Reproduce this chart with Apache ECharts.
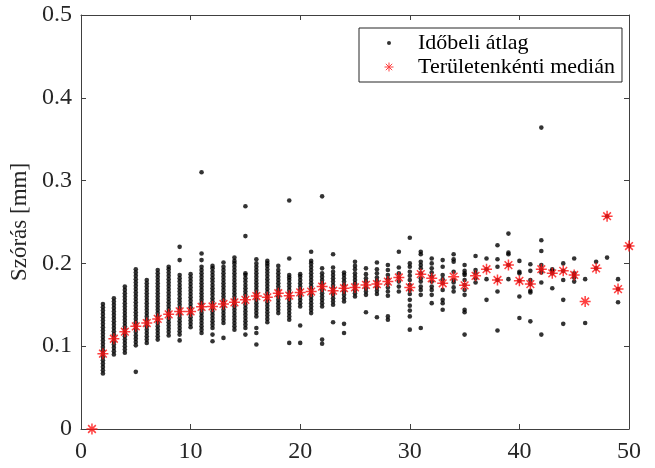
<!DOCTYPE html>
<html><head><meta charset="utf-8">
<script src="https://cdn.jsdelivr.net/npm/echarts@6/dist/echarts.min.js"></script>
<style>html,body{margin:0;padding:0;background:#fff}#c{width:655px;height:468px}</style>
</head><body><div id="c"></div><script>
// ---- Data ----
const xTicks = [0, 10, 20, 30, 40, 50];
const yTicks = [0, 0.1, 0.2, 0.3, 0.4, 0.5];
const seriesNames = ['Időbeli átlag', 'Területenkénti medián'];

// Median per area count (x = 1..50)
const medianX = [1,2,3,4,5,6,7,8,9,10,11,12,13,14,15,16,17,18,19,20,21,22,23,24,25,26,27,28,29,30,31,32,33,34,35,36,37,38,39,40,41,42,43,44,45,46,47,48,49,50];
const medianY = [0,0.091,0.109,0.1175,0.124,0.128,0.133,0.1385,0.142,0.142,0.1475,0.148,0.151,0.153,0.156,0.1606,0.159,0.164,0.161,0.165,0.166,0.172,0.167,0.170,0.171,0.174,0.175,0.178,0.183,0.171,0.187,0.182,0.176,0.184,0.1735,0.185,0.193,0.180,0.198,0.179,0.175,0.193,0.188,0.191,0.186,0.154,0.194,0.257,0.169,0.221];

// Temporal means (black dots), one array per x
const d2 = [0.067,0.071,0.075,0.079,0.083,0.087,0.091,0.095,0.099,0.103,0.107,0.111,0.115,0.119,0.123,0.127,0.131,0.135,0.139,0.143,0.147,0.151];
const d3 = [0.090,0.094,0.098,0.102,0.106,0.110,0.114,0.118,0.122,0.126,0.130,0.134,0.138,0.142,0.146,0.150,0.154,0.158];
const d4 = [0.092,0.096,0.100,0.104,0.108,0.112,0.116,0.120,0.124,0.128,0.132,0.136,0.140,0.144,0.148,0.152,0.156,0.160,0.164,0.168,0.172];
const d5 = [0.069,0.101,0.105,0.109,0.113,0.117,0.121,0.125,0.129,0.133,0.137,0.141,0.145,0.149,0.153,0.157,0.161,0.165,0.169,0.173,0.177,0.181,0.185,0.189,0.193];
const d6 = [0.104,0.108,0.112,0.116,0.120,0.124,0.128,0.132,0.136,0.140,0.144,0.148,0.152,0.156,0.160,0.164,0.168,0.172,0.176,0.180];
const d7 = [0.108,0.112,0.116,0.120,0.124,0.128,0.132,0.136,0.140,0.144,0.148,0.152,0.156,0.160,0.164,0.168,0.172,0.176,0.180,0.184,0.188,0.192];
const d8 = [0.113,0.117,0.121,0.125,0.129,0.133,0.137,0.141,0.145,0.149,0.153,0.157,0.161,0.165,0.169,0.173,0.177,0.181,0.185,0.189,0.193,0.196];
const d9 = [0.107,0.114,0.118,0.122,0.126,0.130,0.134,0.138,0.142,0.146,0.150,0.154,0.158,0.162,0.166,0.170,0.174,0.178,0.182,0.186,0.204,0.220];
const d10 = [0.123,0.127,0.131,0.135,0.139,0.143,0.147,0.151,0.155,0.159,0.163,0.167,0.171,0.175,0.179,0.183,0.187];
const d11 = [0.116,0.120,0.124,0.128,0.132,0.136,0.140,0.144,0.148,0.152,0.156,0.160,0.164,0.168,0.172,0.176,0.180,0.184,0.188,0.192,0.196,0.204,0.212,0.310];
const d12 = [0.106,0.114,0.122,0.126,0.130,0.134,0.138,0.142,0.146,0.150,0.154,0.158,0.162,0.166,0.170,0.174,0.178,0.182,0.186,0.190,0.194,0.197];
const d13 = [0.110,0.128,0.132,0.136,0.140,0.144,0.148,0.152,0.156,0.160,0.164,0.168,0.172,0.176,0.180,0.184,0.188,0.192,0.196,0.201];
const d14 = [0.120,0.124,0.128,0.132,0.136,0.140,0.144,0.148,0.152,0.156,0.160,0.164,0.168,0.172,0.176,0.180,0.184,0.188,0.192,0.196,0.200,0.203,0.207];
const d15 = [0.114,0.122,0.126,0.130,0.134,0.138,0.142,0.146,0.150,0.154,0.158,0.162,0.166,0.170,0.174,0.178,0.182,0.186,0.188,0.233,0.269];
const d16 = [0.102,0.116,0.122,0.136,0.140,0.144,0.148,0.152,0.156,0.160,0.164,0.168,0.172,0.176,0.180,0.184,0.188,0.192,0.196,0.200,0.205];
const d17 = [0.129,0.133,0.137,0.141,0.145,0.149,0.153,0.157,0.161,0.165,0.169,0.173,0.177,0.181,0.185,0.189,0.193,0.197,0.200,0.203];
const d18 = [0.140,0.144,0.148,0.152,0.156,0.160,0.164,0.168,0.172,0.176,0.180,0.184,0.188,0.192,0.197];
const d19 = [0.104,0.132,0.136,0.140,0.144,0.148,0.152,0.156,0.160,0.164,0.168,0.172,0.176,0.180,0.183,0.186,0.206,0.276];
const d20 = [0.104,0.125,0.148,0.152,0.156,0.160,0.164,0.168,0.172,0.176,0.180,0.184,0.187];
const d21 = [0.140,0.144,0.148,0.152,0.156,0.160,0.164,0.168,0.172,0.176,0.180,0.184,0.188,0.192,0.196,0.200,0.203,0.214];
const d22 = [0.103,0.108,0.148,0.152,0.156,0.160,0.164,0.168,0.172,0.176,0.180,0.184,0.188,0.194,0.281];
const d23 = [0.129,0.150,0.154,0.158,0.162,0.166,0.170,0.174,0.178,0.182,0.186,0.190,0.195,0.211];
const d24 = [0.116,0.127,0.154,0.158,0.162,0.166,0.170,0.174,0.178,0.182,0.186,0.189];
const d25 = [0.160,0.164,0.168,0.172,0.176,0.180,0.184,0.188,0.193,0.197,0.202];
const d26 = [0.141,0.162,0.166,0.170,0.174,0.178,0.182,0.187,0.194];
const d27 = [0.135,0.163,0.167,0.171,0.175,0.179,0.183,0.188,0.193,0.201];
const d28 = [0.132,0.136,0.161,0.166,0.171,0.176,0.181,0.186,0.192,0.198];
const d29 = [0.166,0.172,0.178,0.183,0.188,0.195,0.214];
const d30 = [0.120,0.136,0.143,0.149,0.156,0.163,0.168,0.174,0.180,0.185,0.190,0.196,0.200,0.231];
const d31 = [0.122,0.162,0.168,0.172,0.178,0.182,0.188,0.194,0.198,0.202,0.211,0.214];
const d32 = [0.152,0.162,0.168,0.172,0.178,0.184,0.189,0.194,0.200,0.206];
const d33 = [0.144,0.152,0.156,0.168,0.176,0.181,0.186,0.196,0.204];
const d34 = [0.166,0.171,0.177,0.180,0.190,0.202,0.205,0.211];
const d35 = [0.114,0.141,0.144,0.162,0.168,0.174,0.180,0.186,0.188,0.191,0.198];
const d36 = [0.177,0.182,0.188,0.192,0.209];
const d37 = [0.156,0.181,0.193,0.206];
const d38 = [0.119,0.166,0.180,0.196,0.205,0.222];
const d39 = [0.181,0.198,0.211,0.213,0.236];
const d40 = [0.134,0.160,0.179,0.188,0.190,0.203];
const d41 = [0.130,0.165,0.167,0.175,0.180,0.191,0.199];
const d42 = [0.114,0.177,0.189,0.193,0.198,0.215,0.228,0.364];
const d43 = [0.170,0.188,0.191,0.193];
const d44 = [0.127,0.156,0.180,0.191,0.200];
const d45 = [0.178,0.183,0.186,0.188,0.206];
const d46 = [0.128,0.181];
const d47 = [0.194,0.202];
const d48 = [0.207,0.257];
const d49 = [0.153,0.169,0.181];
const d50 = [0.221];

const dotColumns = [
  [2,d2],[3,d3],[4,d4],[5,d5],[6,d6],[7,d7],[8,d8],[9,d9],[10,d10],[11,d11],[12,d12],[13,d13],[14,d14],[15,d15],
  [16,d16],[17,d17],[18,d18],[19,d19],[20,d20],[21,d21],[22,d22],[23,d23],[24,d24],[25,d25],[26,d26],[27,d27],
  [28,d28],[29,d29],[30,d30],[31,d31],[32,d32],[33,d33],[34,d34],[35,d35],[36,d36],[37,d37],[38,d38],[39,d39],
  [40,d40],[41,d41],[42,d42],[43,d43],[44,d44],[45,d45],[46,d46],[47,d47],[48,d48],[49,d49],[50,d50]
];

// ---- Build ----
const dots = [];
dotColumns.forEach(([x, arr]) => arr.forEach(v => dots.push([x, v])));
const medians = medianX.map((x, i) => [x, medianY[i]]);

const FONT = 'Liberation Serif';
const AX = '#404040';
const TXT = '#262626';
const RED = '#ff1010';

function svgIcon(inner) {
  const s = '<svg xmlns="http://www.w3.org/2000/svg" width="48" height="16">' + inner + '</svg>';
  return 'image://data:image/svg+xml;charset=utf-8,' + encodeURIComponent(s);
}
const dotIcon = svgIcon('<circle cx="24" cy="8" r="2" fill="#000"/>');
const starIcon = svgIcon('<g stroke="' + RED + '" stroke-width="1"><line x1="24" y1="3.5" x2="24" y2="12.5"/><line x1="19.5" y1="8" x2="28.5" y2="8"/><line x1="20.8" y1="4.8" x2="27.2" y2="11.2"/><line x1="20.8" y1="11.2" x2="27.2" y2="4.8"/></g>');
const starPath = 'path://M5 0L5 10M0 5L10 5M1.5 1.5L8.5 8.5M1.5 8.5L8.5 1.5';

function xAx(pos, showLabel) {
  return {
    type: 'value', min: xTicks[0], max: xTicks[xTicks.length - 1], interval: 10, position: pos,
    axisLine: { show: true, onZero: false, lineStyle: { color: AX, width: 1 } },
    axisTick: { show: true, inside: true, length: 5, lineStyle: { color: AX } },
    axisLabel: { show: showLabel, fontFamily: FONT, fontSize: 24, color: TXT, margin: 11 },
    splitLine: { show: false }
  };
}
function yAx(pos, showLabel) {
  return {
    type: 'value', min: yTicks[0], max: yTicks[yTicks.length - 1], interval: 0.1, position: pos,
    axisLine: { show: true, onZero: false, lineStyle: { color: AX, width: 1 } },
    axisTick: { show: true, inside: true, length: 5, lineStyle: { color: AX } },
    axisLabel: { show: showLabel, fontFamily: FONT, fontSize: 24, color: TXT, margin: 9 },
    splitLine: { show: false }
  };
}

const yLeft = yAx('left', true);
yLeft.name = 'Szórás [mm]';
yLeft.nameLocation = 'middle';
yLeft.nameGap = 44;
yLeft.nameTextStyle = { fontFamily: FONT, fontSize: 23, color: TXT };

const chart = echarts.init(document.getElementById('c'), null, { renderer: 'canvas' });
chart.setOption({
  animation: false,
  backgroundColor: '#fff',
  grid: { left: 81, right: 26, top: 15, bottom: 39 },
  xAxis: [xAx('bottom', true), xAx('top', false)],
  yAxis: [yLeft, yAx('right', false)],
  legend: {
    orient: 'vertical', left: 359, top: 28,
    padding: [4, 7, 4, 6], itemWidth: 48, itemHeight: 16, itemGap: 2,
    borderColor: '#262626', borderWidth: 1, backgroundColor: '#fff',
    textStyle: { fontFamily: FONT, fontSize: 22, color: '#000' },
    data: [{ name: seriesNames[0], icon: dotIcon }, { name: seriesNames[1], icon: starIcon }]
  },
  series: [
    { type: 'scatter', name: seriesNames[0], data: dots, symbol: 'circle', symbolSize: 4.6,
      itemStyle: { color: '#000' }, z: 2 },
    { type: 'scatter', name: seriesNames[1], data: medians, symbol: starPath, symbolSize: 11, clip: false,
      itemStyle: { color: 'rgba(0,0,0,0)', borderColor: RED, borderWidth: 1.5 }, z: 3 }
  ]
});
</script></body></html>
